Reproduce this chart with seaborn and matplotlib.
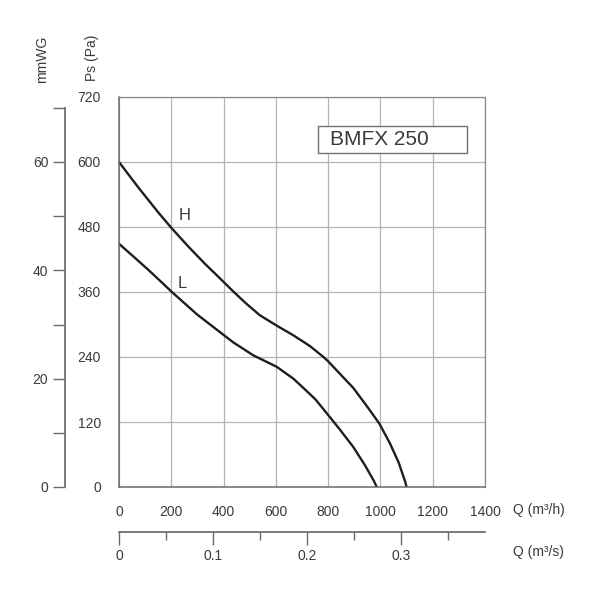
import numpy as np
import pandas as pd
import matplotlib
matplotlib.use("Agg")
import matplotlib.pyplot as plt
from matplotlib.patches import Rectangle
from matplotlib.ticker import MultipleLocator, FixedLocator, FuncFormatter
import seaborn as sns

# curve data: Q in m3/h, Ps in Pa
h_flow = [0, 36, 74, 112, 150, 201, 265, 329, 393, 437, 488, 539, 603, 667, 731, 782,
          800, 845, 896, 947, 996, 1037, 1069, 1094, 1100]
h_pressure = [600, 577, 553, 530, 507, 478, 444, 412, 382, 361, 338, 317, 298, 280, 260, 240,
              232, 209, 183, 150, 117, 80, 46, 11, 0]
l_flow = [0, 61, 112, 163, 200, 300, 386, 437, 514, 603, 667, 705, 751, 800, 845, 896, 941, 973, 986]
l_pressure = [449, 423, 401, 378, 361, 318, 286, 267, 243, 222, 200, 183, 162, 133, 106, 74, 40, 13, 0]

model_name = "BMFX 250"
mmwg_major = [0, 20, 40, 60]
mmwg_minor = [10, 30, 50, 70]
qs_major = [0, 0.1, 0.2, 0.3]
qs_minor = [0.05, 0.15, 0.25, 0.35]

df = pd.concat([
    pd.DataFrame({"Q": h_flow, "Ps": h_pressure, "speed": "H"}),
    pd.DataFrame({"Q": l_flow, "Ps": l_pressure, "speed": "L"}),
])

sns.set_theme(style="white")
plt.rcParams["font.family"] = ["Liberation Sans", "DejaVu Sans"]
text_col = "#3a3a3a"
axis_col = "#6a6a6a"
grid_col = "#b4b4b4"

fig = plt.figure(figsize=(6, 5.9), dpi=100)
ax = fig.add_axes([119 / 600, 1 - 487 / 590, 366 / 600, 390 / 590])

sns.lineplot(data=df, x="Q", y="Ps", hue="speed", palette=["#1e1e1e", "#1e1e1e"],
             linewidth=1.7, legend=False, sort=False, estimator=None, ax=ax)
for line in ax.lines:
    line.set_solid_joinstyle("round")

ax.set_xlim(0, 1400)
ax.set_ylim(0, 720)
ax.xaxis.set_major_locator(MultipleLocator(200))
ax.xaxis.set_minor_locator(MultipleLocator(50))
ax.yaxis.set_major_locator(MultipleLocator(120))
ax.yaxis.set_minor_locator(MultipleLocator(24))
ax.grid(True, which="major", color=grid_col, linewidth=0.9)
ax.set_xlabel("")
ax.set_ylabel("")
ax.tick_params(which="both", direction="out", colors=axis_col, labelcolor=text_col, labelsize=10, width=1)
ax.tick_params(which="major", length=9, pad=4)
ax.tick_params(which="minor", length=5)
for name, sp in ax.spines.items():
    sp.set_color(axis_col if name in ("left", "bottom") else "#8a8a8a")
    sp.set_linewidth(1.1 if name in ("left", "bottom") else 0.9)

# mmWG scale on the far left
sec_y = ax.secondary_yaxis(-54 / 366, functions=(lambda p: p / 10, lambda m: m * 10))
sec_y.yaxis.set_major_locator(FixedLocator(mmwg_major))
sec_y.yaxis.set_minor_locator(FixedLocator(mmwg_minor))
sec_y.tick_params(which="both", direction="out", length=9, width=1, colors=axis_col,
                  labelcolor=text_col, labelsize=10, pad=3)
sec_y.spines["left"].set_color(axis_col)
sec_y.spines["left"].set_bounds(0, 70)

# m3/s scale below
sec_x = ax.secondary_xaxis(-45 / 390, functions=(lambda q: q / 3600, lambda s: s * 3600))
sec_x.xaxis.set_major_locator(FixedLocator(qs_major))
sec_x.xaxis.set_minor_locator(FixedLocator(qs_minor))
sec_x.xaxis.set_major_formatter(FuncFormatter(lambda v, p: "0" if v == 0 else f"{v:g}"))
sec_x.tick_params(which="both", direction="out", width=1, colors=axis_col,
                  labelcolor=text_col, labelsize=10, pad=3)
sec_x.tick_params(which="major", length=9)
sec_x.tick_params(which="minor", length=6)
sec_x.spines["bottom"].set_color(axis_col)

# curve labels and model box
ax.text(252, 502, "H", fontsize=12, color=text_col, ha="center", va="center")
ax.text(242, 376, "L", fontsize=12, color=text_col, ha="center", va="center")
ax.add_patch(Rectangle((761, 616.6), 570, 50, facecolor="white", edgecolor="#707070",
                       linewidth=1, zorder=3))
ax.text(807, 641, model_name, fontsize=15, color=text_col, ha="left", va="center", zorder=4)

# axis titles
fig.text(42 / 600, 1 - 83 / 590, "mmWG", rotation=90, ha="center", va="bottom", fontsize=10, color=text_col)
fig.text(92 / 600, 1 - 81 / 590, "Ps (Pa)", rotation=90, ha="center", va="bottom", fontsize=10, color=text_col)
fig.text(513 / 600, 1 - 510 / 590, "Q (m³/h)", ha="left", va="center", fontsize=10, color=text_col)
fig.text(513 / 600, 1 - 552 / 590, "Q (m³/s)", ha="left", va="center", fontsize=10, color=text_col)

fig.savefig("out.png", dpi=100, facecolor="white")
